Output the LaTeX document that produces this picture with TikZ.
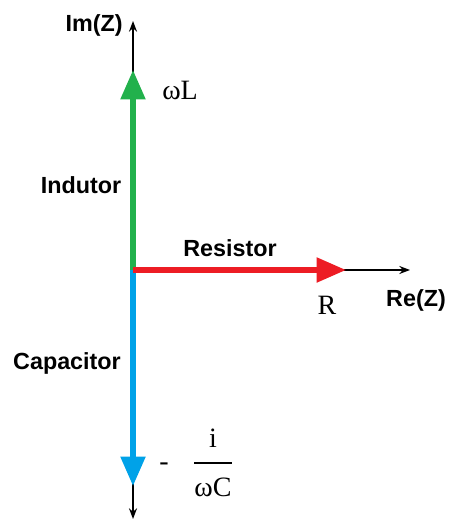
\documentclass[tikz,border=0pt]{standalone}
\usepackage{fontspec}
\usepackage{amsmath}
\setmainfont{Liberation Serif}
\newfontfamily\lblfont{Liberation Sans}
\usetikzlibrary{arrows.meta}
\definecolor{indgreen}{RGB}{34,177,76}
\definecolor{resred}{RGB}{237,28,36}
\definecolor{capblue}{RGB}{0,162,232}
\tikzset{
  axis/.style={line width=1.2pt,-{Stealth[length=8pt,width=6pt]}},
  vec/.style={line width=3.8pt,-{Triangle[length=22pt,width=18pt]}},
  lbl/.style={font=\lblfont\bfseries\fontsize{17.5}{20}\selectfont,inner sep=0pt},
  val/.style={font=\fontsize{21}{24}\selectfont,inner sep=0pt}
}
\begin{document}
\begin{tikzpicture}[x=0.75pt,y=-0.75pt]
\useasboundingbox[fill=white] (0,0) rectangle (451,520);
\coordinate (O) at (133,270);
\coordinate (T) at (133,21);
\coordinate (B) at (133,519);
\coordinate (Rt) at (410,270);
\coordinate (G) at (133,70);
\coordinate (Rd) at (346,270);
\coordinate (Bl) at (133,486);
\draw[axis] (O) -- (T);
\draw[axis] (O) -- (B);
\draw[axis] (O) -- (Rt);
\draw[vec,indgreen] (O) -- (G);
\draw[vec,capblue] (O) -- (Bl);
\draw[vec,resred] (O) -- (Rd);
\node[lbl,anchor=east] (im) at (123,25) {Im(Z)};
\node[lbl] (re) at (416,300) {Re(Z)};
\node[lbl] (ind) at (81,185) {Indutor};
\node[lbl] (res) at (230,248) {Resistor};
\node[lbl] (cap) at (67,363) {Capacitor};
\node[val,anchor=west] (wl) at (162,90) {ωL};
\node[val] (r) at (327,305) {R};
\node[val] (minus) at (164,467) {-};
\node[val] (frac) at (213,463) {$\genfrac{}{}{1.6pt}{0}{\mbox{i}\rule[-6pt]{0pt}{6pt}}{\rule{0pt}{20pt}\mbox{ωC}}$};
\end{tikzpicture}
\end{document}
